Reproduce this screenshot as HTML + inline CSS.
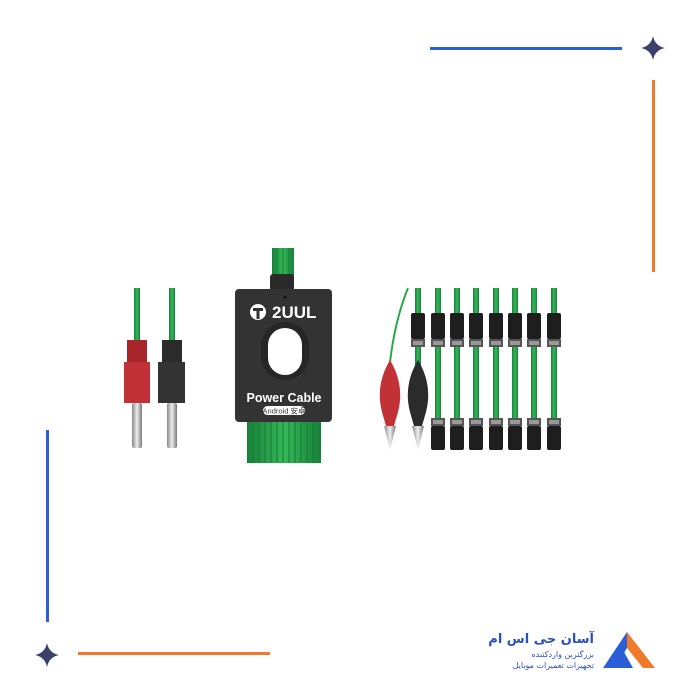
<!DOCTYPE html>
<html><head><meta charset="utf-8"><style>
html,body{margin:0;padding:0;background:#fff;width:700px;height:700px;overflow:hidden}
</style></head><body>
<svg width="700" height="700" viewBox="0 0 700 700" xmlns="http://www.w3.org/2000/svg" font-family="Liberation Sans, sans-serif">
<defs>
<linearGradient id="sil" x1="0" x2="1"><stop offset="0" stop-color="#888"/><stop offset=".5" stop-color="#eee"/><stop offset="1" stop-color="#777"/></linearGradient>
<linearGradient id="gw" x1="0" x2="1"><stop offset="0" stop-color="#17803a"/><stop offset=".5" stop-color="#35b858"/><stop offset="1" stop-color="#17803a"/></linearGradient>
<g id="conn"><rect x="-7" y="0" width="14" height="26" rx="2" fill="#1e1e1e"/><rect x="-7" y="26" width="14" height="8" fill="#555"/><rect x="-5" y="28" width="10" height="4" fill="#999"/></g>
<g id="connb"><rect x="-7" y="0" width="14" height="8" fill="#555"/><rect x="-5" y="2" width="10" height="4" fill="#999"/><rect x="-7" y="8" width="14" height="24" rx="2" fill="#1e1e1e"/></g>
</defs>
<rect x="430" y="47" width="192" height="3" fill="#2a5fd8"/>
<rect x="652" y="80" width="3" height="192" fill="#f07a2a"/>
<rect x="46" y="430" width="3" height="192" fill="#2a5fd8"/>
<rect x="78" y="652" width="192" height="3" fill="#f07a2a"/>
<path d="M653 36 Q655 46 665 48 Q655 50 653 60 Q651 50 641 48 Q651 46 653 36Z" fill="#3a3f6b"/>
<path d="M47 643 Q49 653 59 655 Q49 657 47 667 Q45 657 35 655 Q45 653 47 643Z" fill="#3a3f6b"/>
<rect x="134" y="288" width="6" height="55" fill="url(#gw)"/>
<rect x="169" y="288" width="6" height="55" fill="url(#gw)"/>
<rect x="127" y="340" width="20" height="24" fill="#a8262a"/>
<rect x="124" y="362" width="26" height="41" fill="#c23136"/>
<rect x="132" y="403" width="10" height="45" rx="2" fill="url(#sil)"/>
<rect x="162" y="340" width="20" height="24" fill="#2b2b2b"/>
<rect x="158" y="362" width="27" height="41" fill="#333"/>
<rect x="167" y="403" width="10" height="45" rx="2" fill="url(#sil)"/>
<g fill="url(#gw)">
<rect x="272" y="248" width="22" height="30"/>
<rect x="247" y="420" width="74" height="43"/>
</g>
<g stroke="#1a7a33" stroke-width="1">
<line x1="277" y1="248" x2="277" y2="276"/><line x1="283" y1="248" x2="283" y2="276"/><line x1="289" y1="248" x2="289" y2="276"/>
<line x1="253" y1="422" x2="253" y2="463"/><line x1="259" y1="422" x2="259" y2="463"/><line x1="265" y1="422" x2="265" y2="463"/><line x1="271" y1="422" x2="271" y2="463"/><line x1="277" y1="422" x2="277" y2="463"/><line x1="283" y1="422" x2="283" y2="463"/><line x1="289" y1="422" x2="289" y2="463"/><line x1="295" y1="422" x2="295" y2="463"/><line x1="301" y1="422" x2="301" y2="463"/><line x1="307" y1="422" x2="307" y2="463"/><line x1="313" y1="422" x2="313" y2="463"/>
</g>
<rect x="270" y="274" width="24" height="17" rx="3" fill="#2a2a2a"/>
<rect x="235" y="289" width="97" height="133" rx="4" fill="#333"/>
<circle cx="285" cy="297" r="1.5" fill="#111"/>
<circle cx="258" cy="312" r="8" fill="#fff"/>
<path d="M253 308h10v3h-3.5v8h-3v-8h-3.5z" fill="#333"/>
<text x="272" y="318" font-size="17" font-weight="bold" fill="#fff">2UUL</text>
<rect x="261" y="322" width="48" height="58" rx="24" fill="#262626"/>
<rect x="268" y="328" width="34" height="47" rx="17" fill="#fff"/>
<text x="284" y="402" font-size="12.5" font-weight="bold" fill="#fff" text-anchor="middle">Power Cable</text>
<rect x="263" y="406" width="42" height="9" rx="4.5" fill="#fff"/>
<text x="284" y="413.5" font-size="7.5" fill="#333" text-anchor="middle" font-family="Liberation Sans, Noto Sans CJK SC, sans-serif">Android 安卓</text>
<path d="M408 288 Q395 320 390 362" stroke="#2aa84a" stroke-width="2" fill="none"/>
<rect x="415" y="288" width="6" height="80" fill="url(#gw)"/>
<g fill="url(#gw)">
<rect x="435" y="288" width="6" height="150"/><rect x="454" y="288" width="6" height="150"/><rect x="473" y="288" width="6" height="150"/><rect x="493" y="288" width="6" height="150"/><rect x="512" y="288" width="6" height="150"/><rect x="531" y="288" width="6" height="150"/><rect x="551" y="288" width="6" height="150"/>
</g>
<use href="#conn" x="418" y="313"/><use href="#conn" x="438" y="313"/><use href="#conn" x="457" y="313"/><use href="#conn" x="476" y="313"/><use href="#conn" x="496" y="313"/><use href="#conn" x="515" y="313"/><use href="#conn" x="534" y="313"/><use href="#conn" x="554" y="313"/>
<use href="#connb" x="438" y="418"/><use href="#connb" x="457" y="418"/><use href="#connb" x="476" y="418"/><use href="#connb" x="496" y="418"/><use href="#connb" x="515" y="418"/><use href="#connb" x="534" y="418"/><use href="#connb" x="554" y="418"/>
<path d="M390 360 Q375 385 382 412 L386 426 L394 426 L398 412 Q405 385 390 360Z" fill="#c23136"/>
<path d="M384 426 L390 450 L396 426Z" fill="url(#sil)"/>
<path d="M418 360 Q403 385 410 412 L414 426 L422 426 L426 412 Q433 385 418 360Z" fill="#2b2b2b"/>
<path d="M412 426 L418 450 L424 426Z" fill="url(#sil)"/>
<path d="M627 632 L603 668 L615 668 L627 648Z" fill="#2a5fd8"/>
<path d="M627 632 L655 668 L643 668 L627 648Z" fill="#f07a2a"/>
<path d="M613 668 L624 652 L633 668Z" fill="#2a5fd8"/>
<text x="594" y="643" font-size="13" font-weight="bold" fill="#2a4fc0" text-anchor="end" font-family="DejaVu Sans, sans-serif">آسان جی اس ام</text>
<text x="594" y="657" font-size="8" fill="#2a4fc0" text-anchor="end" font-family="DejaVu Sans, sans-serif">بزرگترین واردکننده</text>
<text x="594" y="668" font-size="8" fill="#2a4fc0" text-anchor="end" font-family="DejaVu Sans, sans-serif">تجهیزات تعمیرات موبایل</text>
</svg>
</body></html>
